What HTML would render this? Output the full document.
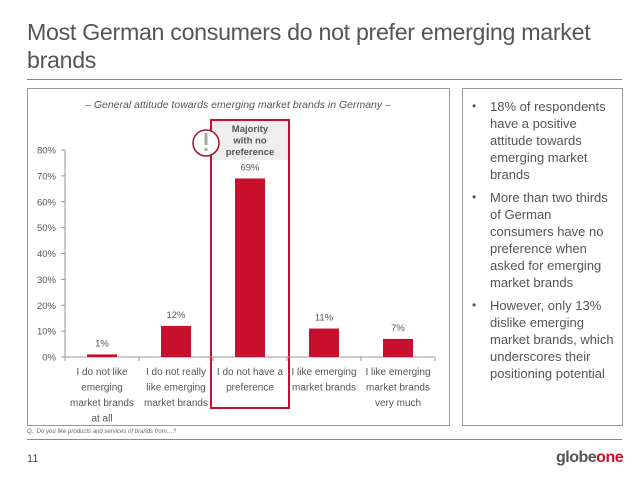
<!DOCTYPE html>
<html><head><meta charset="utf-8"><style>
body{margin:0;width:638px;height:479px;background:#fff;font-family:"Liberation Sans",sans-serif;color:#555;position:relative;overflow:hidden}
.abs{position:absolute}
#title{left:27px;top:18px;font-size:23.2px;line-height:28px;color:#555;width:600px;letter-spacing:-0.3px}
ul{margin:0;padding:0;list-style:none}
li{position:relative;padding-left:18px;margin-bottom:6px}
li:before{content:"•";position:absolute;left:0;top:0;font-size:12px}
</style></head><body>
<div id="title" class="abs">Most German consumers do not prefer emerging market brands</div>
<div class="abs" style="left:27px;top:79px;width:595px;height:1px;background:#888"></div>
<div class="abs" style="left:27px;top:88px;width:421px;height:336px;border:1px solid #999"></div>
<div class="abs" style="left:462px;top:88px;width:159px;height:336px;border:1px solid #999"></div>
<div class="abs" style="left:472px;top:98px;width:144px;font-size:13px;line-height:17px;color:#555">
<ul><li>18% of respondents have a positive attitude towards emerging market brands</li>
<li>More than two thirds of German consumers have no preference when asked for emerging market brands</li>
<li>However, only 13% dislike emerging market brands, which underscores their positioning potential</li></ul></div>
<svg class="abs" style="left:0;top:0" width="638" height="479" id="chart">
<text x="238" y="108" text-anchor="middle" font-size="10.5" font-style="italic" fill="#555">– General attitude towards emerging market brands in Germany –</text>
</svg>
<div class="abs" style="left:27px;top:429px;font-size:6px;font-style:italic;color:#666">Q.: Do you like products and services of brands from…?</div>
<div class="abs" style="left:27px;top:439px;width:595px;height:1px;background:#888"></div>
<div class="abs" style="left:27px;top:453px;font-size:11px;color:#555">11</div>
<div class="abs" style="left:556px;top:449px;font-size:16px;font-weight:bold;color:#555;letter-spacing:-0.5px">globe<span style="color:#c8102e">one</span></div>
<script>
const categories=[["I do not like","emerging","market brands","at all"],["I do not really","like emerging","market brands"],["I do not have a","preference"],["I like emerging","market brands"],["I like emerging","market brands","very much"]];
const values=[1,12,69,11,7];
const valueLabels=["1%","12%","69%","11%","7%"];
const ticks=[0,10,20,30,40,50,60,70,80];
const NS="http://www.w3.org/2000/svg";
const svg=document.getElementById('chart');
const x0=65,x1=435,y0=357,y80=150;
const yS=v=>y0-(v/80)*(y0-y80);
const band=(x1-x0)/categories.length;
const xC=i=>x0+band*(i+0.5);
function mk(t,a){const e=document.createElementNS(NS,t);for(const k in a)e.setAttribute(k,a[k]);svg.appendChild(e);return e;}
const hb=mk('rect',{x:xC(2)-39,y:120,width:78,height:288,fill:'none',stroke:'#c8102e','stroke-width':2});


const hg=mk('rect',{x:xC(2)-38,y:121,width:76,height:39,fill:'#eee'});


["Majority","with no","preference"].forEach((s,k)=>{const t=mk('text',{x:xC(2),y:132+k*11.5,'text-anchor':'middle','font-size':9.5,'font-weight':'bold',fill:'#555'});t.textContent=s;

});
const ci=mk('circle',{cx:xC(2)-44,cy:143,r:13,fill:'#fff',stroke:'#a0102e','stroke-width':1.5});


mk('rect',{x:xC(2)-45.5,y:133,width:3,height:12,fill:'#aaa'});
mk('rect',{x:xC(2)-45.5,y:148,width:3,height:3,fill:'#aaa'});
const ya=mk('line',{x1:x0,y1:y80,x2:x0,y2:y0,stroke:'#999'});


const xa=mk('line',{x1:x0,y1:y0,x2:x1,y2:y0,stroke:'#999'});


ticks.forEach(v=>{mk('line',{x1:x0-4,y1:yS(v),x2:x0,y2:yS(v),stroke:'#999'});
const t=mk('text',{x:x0-9,y:yS(v)+3.5,'text-anchor':'end','font-size':9.5,fill:'#555'});t.textContent=v+'%';

});
for(let i=0;i<=categories.length;i++)mk('line',{x1:x0+band*i,y1:y0,x2:x0+band*i,y2:y0+4,stroke:'#999'});
values.forEach((v,i)=>{const b=mk('rect',{x:xC(i)-15,y:yS(v),width:30,height:y0-yS(v),fill:'#c8102e'});


const l=mk('text',{x:xC(i),y:yS(v)-8,'text-anchor':'middle','font-size':9.5,fill:'#555'});l.textContent=valueLabels[i];


categories[i].forEach((s,k)=>{const t=mk('text',{x:xC(i),y:375+k*15.5,'text-anchor':'middle','font-size':10,fill:'#555'});t.textContent=s;

});});
</script>
</body></html>
